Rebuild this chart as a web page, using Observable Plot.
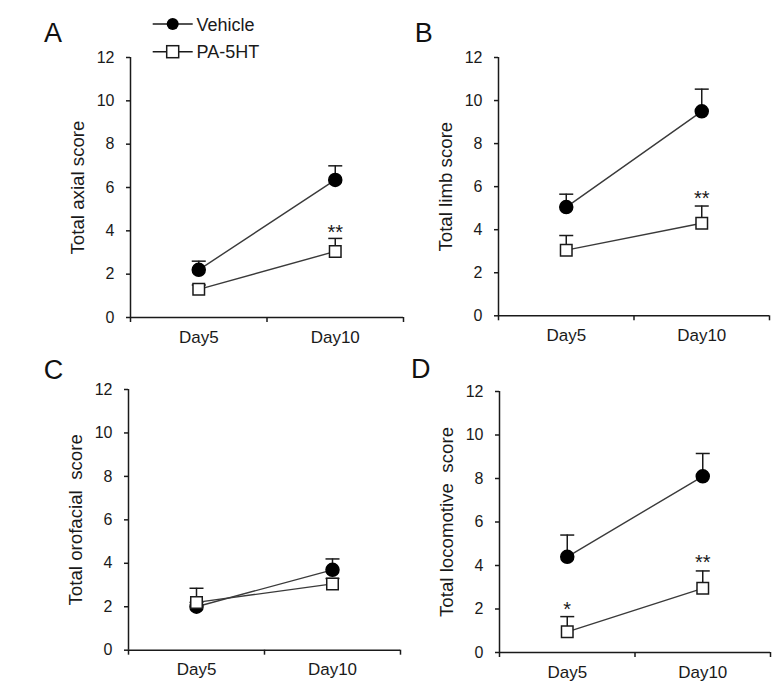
<!DOCTYPE html>
<html><head><meta charset="utf-8">
<script src="https://cdn.jsdelivr.net/npm/d3@7"></script>
<script src="https://cdn.jsdelivr.net/npm/@observablehq/plot@0.6"></script>
<style>
body{margin:0;background:#fff;overflow:hidden;}
#root{position:relative;width:776px;height:691px;font-family:"Liberation Sans",Arial,sans-serif;}
.panel{position:absolute;}
#overlay{position:absolute;left:0;top:0;}
</style></head><body><div id="root"></div>
<script>
// ---- data ----
const days = ["Day5", "Day10"];
const groups = ["Vehicle", "PA-5HT"];
const panelLetters = ["A", "B", "C", "D"];
const yLabels = ["Total axial score", "Total limb score", "Total orofacial  score", "Total locomotive  score"];
const yTicks = [0, 2, 4, 6, 8, 10, 12];

const axialVehicle = [2.2, 6.35];
const axialVehicleSE = [0.4, 0.65];
const axialPA = [1.3, 3.05];
const axialPASE = [0.2, 0.6];
const axialStars = ["", "**"];
const axialStarY = [null, 4.17];

const limbVehicle = [5.05, 9.5];
const limbVehicleSE = [0.6, 1.03];
const limbPA = [3.05, 4.3];
const limbPASE = [0.68, 0.8];
const limbStars = ["", "**"];
const limbStarY = [null, 5.68];

const orofacialVehicle = [2.0, 3.7];
const orofacialVehicleSE = [0.2, 0.5];
const orofacialPA = [2.2, 3.05];
const orofacialPASE = [0.65, 0.25];
const orofacialStars = ["", ""];
const orofacialStarY = [null, null];

const locomotiveVehicle = [4.4, 8.1];
const locomotiveVehicleSE = [1.0, 1.05];
const locomotivePA = [0.95, 2.95];
const locomotivePASE = [0.7, 0.8];
const locomotiveStars = ["*", "**"];
const locomotiveStarY = [2.18, 4.37];

const panels = [
  {letter: panelLetters[0], label: yLabels[0], means: [axialVehicle, axialPA], se: [axialVehicleSE, axialPASE], stars: axialStars, starY: axialStarY},
  {letter: panelLetters[1], label: yLabels[1], means: [limbVehicle, limbPA], se: [limbVehicleSE, limbPASE], stars: limbStars, starY: limbStarY},
  {letter: panelLetters[2], label: yLabels[2], means: [orofacialVehicle, orofacialPA], se: [orofacialVehicleSE, orofacialPASE], stars: orofacialStars, starY: orofacialStarY},
  {letter: panelLetters[3], label: yLabels[3], means: [locomotiveVehicle, locomotivePA], se: [locomotiveVehicleSE, locomotivePASE], stars: locomotiveStars, starY: locomotiveStarY}
];

// ---- layout ----
const ML = 80, MR = 6, MT = 20, MB = 50;
const layout = [
  {axisX: 130, w: 273, y12: 57, h: 260, lx: 44, ly: 41.7},
  {axisX: 498, w: 271, y12: 56.7, h: 258.3, lx: 414.7, ly: 41.7},
  {axisX: 128, w: 272, y12: 389.3, h: 260.7, lx: 43.7, ly: 378.5},
  {axisX: 499, w: 271, y12: 390.7, h: 261, lx: 411, ly: 378}
];
const INK = "#1a1a1a";
const FONT = '"Liberation Sans", Arial, sans-serif';
const capSymbol = {draw(ctx) { ctx.moveTo(-7, 0); ctx.lineTo(7, 0); }};

const root = document.getElementById("root");

panels.forEach((p, k) => {
  const L = layout[k];
  const rows = [];
  groups.forEach((g, gi) => days.forEach((d, di) => rows.push({
    group: g, day: d, i: di + 0.5,
    mean: p.means[gi][di], top: p.means[gi][di] + p.se[gi][di]
  })));
  const starRows = days.map((d, di) => ({i: di + 0.5, y: p.starY[di], s: p.stars[di]})).filter(d => d.s);
  const chart = Plot.plot({
    width: ML + L.w + MR,
    height: MT + L.h + MB,
    marginLeft: ML, marginRight: MR, marginTop: MT, marginBottom: MB,
    style: {fontFamily: FONT, color: INK, background: "transparent", overflow: "visible"},
    x: {domain: [0, 2], axis: null},
    y: {domain: [0, 12], axis: null},
    marks: [
      Plot.axisY({ticks: yTicks, tickSize: 4, tickPadding: 12, fontSize: 16, label: null, strokeWidth: 1.5}),
      Plot.axisX({ticks: [0, 1, 2], tickSize: 5, tickFormat: () => "", label: null, strokeWidth: 1.5}),
      Plot.axisX({ticks: [0.5, 1.5], tickSize: 0, tickPadding: 13, tickFormat: v => days[Math.floor(v)], fontSize: 17, label: null}),
      Plot.ruleX([0], {stroke: INK, strokeWidth: 1.5}),
      Plot.ruleY([0], {stroke: INK, strokeWidth: 1.5}),
      Plot.ruleX(rows, {x: "i", y1: "mean", y2: "top", stroke: INK, strokeWidth: 1.5}),
      Plot.dot(rows, {x: "i", y: "top", symbol: capSymbol, stroke: INK, strokeWidth: 1.5, fill: "none"}),
      Plot.line(rows, {x: "i", y: "mean", z: "group", stroke: "#3a3a3a", strokeWidth: 1.4}),
      Plot.dot(rows.filter(d => d.group === groups[0]), {x: "i", y: "mean", symbol: "circle", r: 6.5, fill: "#000", stroke: "#000"}),
      Plot.dot(rows.filter(d => d.group === groups[1]), {x: "i", y: "mean", symbol: "square", r: 6.5, fill: "#fff", stroke: INK, strokeWidth: 1.5}),
      Plot.text(starRows, {x: "i", y: "y", text: "s", fontSize: 20, dy: 5, fill: INK}),
      Plot.text([p.label], {frameAnchor: "left", textAnchor: "middle", lineAnchor: "middle", rotate: -90, dx: -52, fontSize: 18.7, fill: INK})
    ]
  });
  chart.classList.add("panel");
  chart.style.left = (L.axisX - ML) + "px";
  chart.style.top = (L.y12 - MT) + "px";
  root.appendChild(chart);
});

// ---- overlay: panel letters + legend ----
const svg = d3.select(root).append("svg").attr("id", "overlay")
  .attr("width", 776).attr("height", 691)
  .style("font-family", FONT);
panels.forEach((p, k) => {
  svg.append("text").attr("x", layout[k].lx).attr("y", layout[k].ly)
    .attr("font-size", 27).attr("fill", "#111").text(p.letter);
});
const legendRows = [{y: 24, sym: "circle"}, {y: 51.7, sym: "square"}];
groups.forEach((g, gi) => {
  const r = legendRows[gi];
  svg.append("line").attr("x1", 152.7).attr("x2", 192.7).attr("y1", r.y).attr("y2", r.y)
    .attr("stroke", INK).attr("stroke-width", 1.5);
  if (r.sym === "circle") {
    svg.append("circle").attr("cx", 172.7).attr("cy", r.y).attr("r", 6).attr("fill", "#000");
  } else {
    svg.append("rect").attr("x", 172.7 - 6).attr("y", r.y - 6).attr("width", 12).attr("height", 12)
      .attr("fill", "#fff").attr("stroke", INK).attr("stroke-width", 1.5);
  }
  svg.append("text").attr("x", 196.5).attr("y", r.y + 6.5).attr("font-size", 18).attr("fill", INK).text(g);
});
</script>
</body></html>
